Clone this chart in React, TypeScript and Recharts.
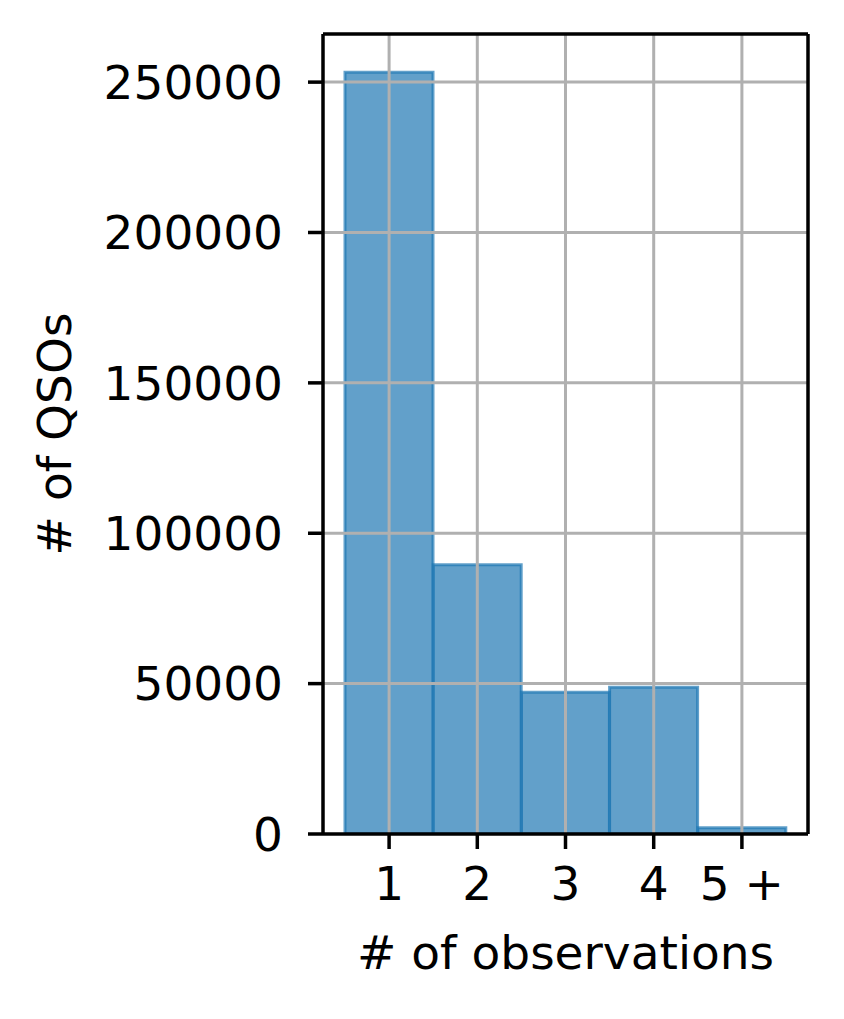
import { Bar, BarChart, ReferenceLine, XAxis, YAxis } from "recharts"

const categories = ["1", "2", "3", "4", "5 +"]
const qsoCounts = [253300, 89500, 47100, 48800, 2100]
const yTicks = [0, 50000, 100000, 150000, 200000, 250000]

const data = categories.map((c, i) => ({ obs: c, count: qsoCounts[i] }))

const font = "'DejaVu Sans', sans-serif"
const blue = "#1f77b4"
const gridColor = "#b0b0b0"
const spine = { stroke: "#000", strokeWidth: 3.5 }

export default function App() {
  return (
    <div style={{ position: "absolute", left: 0, top: 0 }}>
      <BarChart
        width={844}
        height={1019}
        data={data}
        barCategoryGap={0}
        margin={{ top: 33, right: 35, left: 0, bottom: 0 }}
      >
        <XAxis
          dataKey="obs"
          height={185}
          padding={{ left: 22, right: 22 }}
          axisLine={spine}
          tickLine={spine}
          tickSize={15}
          tickMargin={18}
          tick={{ fill: "#000", fontSize: 47, fontFamily: font }}
          label={{
            value: "# of observations",
            position: "insideBottom",
            offset: 50,
            fill: "#000",
            fontSize: 47,
            fontFamily: font,
          }}
        />
        <XAxis xAxisId="top" dataKey="obs" orientation="top" height={1} padding={{ left: 22, right: 22 }} tick={false} tickLine={false} axisLine={spine} />
        <YAxis
          width={323}
          domain={[0, 266000]}
          ticks={yTicks}
          allowDataOverflow
          axisLine={spine}
          tickLine={spine}
          tickSize={15}
          tickMargin={25}
          tick={{ fill: "#000", fontSize: 47, fontFamily: font }}
          label={{
            value: "# of QSOs",
            angle: -90,
            position: "insideLeft",
            offset: 54,
            fill: "#000",
            fontSize: 47,
            fontFamily: font,
            style: { textAnchor: "middle" },
          }}
        />
        <YAxis yAxisId="right" orientation="right" width={1} domain={[0, 266000]} tick={false} tickLine={false} axisLine={spine} />
        <Bar
          dataKey="count"
          fill={blue}
          fillOpacity={0.7}
          stroke={blue}
          strokeOpacity={0.7}
          strokeWidth={3}
          isAnimationActive={false}
        />
        {categories.map((c) => (
          <ReferenceLine key={"x" + c} x={c} stroke={gridColor} strokeWidth={3} />
        ))}
        {yTicks.slice(1).map((t) => (
          <ReferenceLine key={"y" + t} y={t} stroke={gridColor} strokeWidth={3} />
        ))}
      </BarChart>
    </div>
  )
}
